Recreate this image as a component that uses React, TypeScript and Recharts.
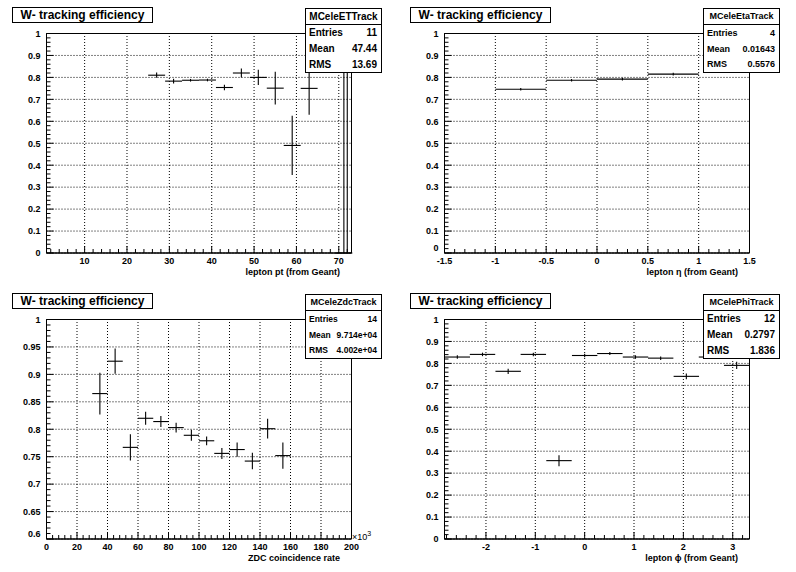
import React from 'react';
import { ScatterChart, Scatter, XAxis, YAxis, ErrorBar, ReferenceLine, ReferenceArea } from 'recharts';

const FONT = '"Liberation Sans", Arial, Helvetica, sans-serif';

// lepton pt panel
const ptCenters = [27, 31, 35, 39, 43, 47, 51, 55, 59, 63];
const ptEff = [0.81, 0.783, 0.787, 0.788, 0.754, 0.82, 0.8, 0.751, 0.49, 0.75];
const ptErr = [0.012, 0.011, 0.006, 0.006, 0.013, 0.02, 0.035, 0.075, 0.135, 0.12];
const ptHalfWidth = 2;
const ptSpikeX = [71.2, 72];
const ptSpikeTop = [1, 1];
const ptMajor = [10, 20, 30, 40, 50, 60, 70];
const ptLabels = ['10', '20', '30', '40', '50', '60', '70'];

// lepton eta panel
const etaCenters = [-0.75, -0.25, 0.25, 0.75];
const etaEff = [0.746, 0.787, 0.792, 0.815];
const etaErr = [0.006, 0.006, 0.006, 0.006];
const etaHalfWidth = 0.25;
const etaMajor = [-1.5, -1, -0.5, 0, 0.5, 1, 1.5];
const etaLabels = ['-1.5', '-1', '-0.5', '0', '0.5', '1', '1.5'];

// ZDC rate panel (x in units of 10^3)
const zdcCenters = [35, 45, 55, 65, 75, 85, 95, 105, 115, 125, 135, 145, 155];
const zdcEff = [0.865, 0.924, 0.767, 0.82, 0.814, 0.803, 0.789, 0.779, 0.756, 0.763, 0.742, 0.801, 0.752];
const zdcErr = [0.038, 0.023, 0.024, 0.012, 0.01, 0.009, 0.01, 0.008, 0.01, 0.013, 0.015, 0.018, 0.024];
const zdcHalfWidth = 5;
const zdcMajor = [0, 20, 40, 60, 80, 100, 120, 140, 160, 180, 200];
const zdcLabels = ['0', '20', '40', '60', '80', '100', '120', '140', '160', '180', '200'];

// lepton phi panel
const phiCenters = [-2.58, -2.07, -1.55, -1.04, -0.52, 0.0, 0.51, 1.03, 1.54, 2.06, 2.57, 3.08];
const phiEff = [0.829, 0.841, 0.764, 0.841, 0.357, 0.836, 0.845, 0.829, 0.824, 0.741, 0.829, 0.791];
const phiErr = [0.008, 0.008, 0.012, 0.008, 0.025, 0.008, 0.007, 0.008, 0.008, 0.013, 0.008, 0.016];
const phiHalfWidth = 0.2575;
const phiMajor = [-2, -1, 0, 1, 2, 3];
const phiLabels = ['-2', '-1', '0', '1', '2', '3'];

const effMajor = [0, 0.1, 0.2, 0.3, 0.4, 0.5, 0.6, 0.7, 0.8, 0.9, 1];
const effLabels = ['0', '0.1', '0.2', '0.3', '0.4', '0.5', '0.6', '0.7', '0.8', '0.9', '1'];
const zoomMajor = [0.6, 0.65, 0.7, 0.75, 0.8, 0.85, 0.9, 0.95, 1];
const zoomLabels = ['0.6', '0.65', '0.7', '0.75', '0.8', '0.85', '0.9', '0.95', '1'];

const steps = (from: number, to: number, step: number) => {
  const out: number[] = [];
  const n = Math.round((to - from) / step);
  for (let i = 0; i <= n; i++) out.push(+(from + i * step).toFixed(6));
  return out;
};

const toPoints = (xs: number[], ys: number[], errs: number[], half: number) =>
  xs.map((x, i) => ({ x, y: ys[i], ex: half, ey: errs[i] }));

const makeTick = (side: 'x' | 'y', major: number[], labels: string[], liftFirst: boolean) => (p: any) => {
  const v = p.payload.value;
  const i = major.findIndex((m) => Math.abs(m - v) < 1e-6);
  const len = i >= 0 ? 7 : 4;
  const textStyle = { fontFamily: FONT, fontWeight: 700, fontSize: 9, fill: '#000' };
  if (side === 'x') {
    return (
      <g>
        <line x1={p.x} y1={p.y} x2={p.x} y2={p.y - len} stroke="#000" />
        {i >= 0 && (
          <text x={p.x} y={p.y + 10.5} textAnchor="middle" style={textStyle}>
            {labels[i]}
          </text>
        )}
      </g>
    );
  }
  const lift = liftFirst && i === 0 ? 5 : 0;
  return (
    <g>
      <line x1={p.x} y1={p.y} x2={p.x + len} y2={p.y} stroke="#000" />
      {i >= 0 && (
        <text x={p.x - 6} y={p.y + 3.3 - lift} textAnchor="end" style={textStyle}>
          {labels[i]}
        </text>
      )}
    </g>
  );
};

interface Stats {
  name: string;
  entries: string;
  mean: string;
  rms: string;
  headSize: number;
  rowSize: number;
}

interface PanelProps {
  left: number;
  top: number;
  points: { x: number; y: number; ex: number; ey: number | number[] }[];
  spikes?: { x: number; y: number; ex: number; ey: number | number[] }[];
  xDomain: [number, number];
  yDomain: [number, number];
  xMinor: number[];
  xMajor: number[];
  xLabels: string[];
  yMinor: number[];
  yMajor: number[];
  yLabels: string[];
  liftFirst?: boolean;
  xTitle: string;
  stats: Stats;
  multiplier?: boolean;
}

const StatsBox = ({ s }: { s: Stats }) => (
  <div
    style={{
      position: 'absolute',
      left: 305,
      top: 8,
      width: 77,
      height: 65,
      boxSizing: 'border-box',
      border: '1px solid #000',
      background: '#fff',
      fontFamily: FONT,
      fontWeight: 700,
      display: 'flex',
      flexDirection: 'column',
    }}
  >
    <div
      style={{
        height: 15,
        borderBottom: '1px solid #000',
        fontSize: s.headSize,
        lineHeight: '15px',
        textAlign: 'center',
      }}
    >
      {s.name}
    </div>
    {[
      ['Entries', s.entries],
      ['Mean', s.mean],
      ['RMS', s.rms],
    ].map(([k, v]) => (
      <div
        key={k}
        style={{
          flex: 1,
          display: 'flex',
          justifyContent: 'space-between',
          alignItems: 'center',
          padding: '0 4px 0 3px',
          fontSize: s.rowSize,
        }}
      >
        <span>{k}</span>
        <span>{v}</span>
      </div>
    ))}
  </div>
);

const Panel = (p: PanelProps) => (
  <div style={{ position: 'absolute', left: p.left, top: p.top, width: 398, height: 286 }}>
    <ScatterChart width={398} height={286} margin={{ top: 33.5, right: 46.5, bottom: 13, left: 0.5 }}>
      <XAxis
        type="number"
        dataKey="x"
        domain={p.xDomain}
        allowDataOverflow
        ticks={p.xMinor}
        interval={0}
        height={20}
        tickSize={0}
        tickMargin={0}
        tickLine={false}
        axisLine={{ stroke: '#000' }}
        tick={makeTick('x', p.xMajor, p.xLabels, false)}
      />
      <YAxis
        type="number"
        dataKey="y"
        domain={p.yDomain}
        allowDataOverflow
        ticks={p.yMinor}
        interval={0}
        width={46}
        tickSize={0}
        tickMargin={0}
        tickLine={false}
        axisLine={{ stroke: '#000' }}
        tick={makeTick('y', p.yMajor, p.yLabels, !!p.liftFirst)}
      />
      {p.yMajor.map((v) => (
        <ReferenceLine key={'gy' + v} y={v} stroke="#000" strokeDasharray="1 2" />
      ))}
      {p.xMajor.map((v) => (
        <ReferenceLine key={'gx' + v} x={v} stroke="#000" strokeDasharray="1 2" />
      ))}
      <Scatter data={p.points} shape={() => <g />} isAnimationActive={false}>
        <ErrorBar dataKey="ex" direction="x" width={0} stroke="#000" strokeWidth={1.1} />
        <ErrorBar dataKey="ey" direction="y" width={0} stroke="#000" strokeWidth={1.1} />
      </Scatter>
      {p.spikes && (
        <Scatter data={p.spikes} shape={() => <g />} isAnimationActive={false}>
          <ErrorBar dataKey="ex" direction="x" width={0} stroke="#000" strokeWidth={1.1} />
          <ErrorBar dataKey="ey" direction="y" width={0} stroke="#000" strokeWidth={1.1} />
        </Scatter>
      )}
      <ReferenceArea
        x1={p.xDomain[0]}
        x2={p.xDomain[1]}
        y1={p.yDomain[0]}
        y2={p.yDomain[1]}
        fill="none"
        stroke="#000"
        ifOverflow="visible"
      />
    </ScatterChart>
    <div
      style={{
        position: 'absolute',
        left: 12,
        top: 7,
        width: 141,
        height: 16,
        boxSizing: 'border-box',
        border: '1px solid #000',
        background: '#fff',
        fontFamily: FONT,
        fontWeight: 700,
        fontSize: 12,
        lineHeight: '14px',
        textAlign: 'center',
      }}
    >
      W- tracking efficiency
    </div>
    <StatsBox s={p.stats} />
    <div
      style={{
        position: 'absolute',
        right: 58,
        top: 267,
        fontFamily: FONT,
        fontWeight: 700,
        fontSize: 9,
        lineHeight: '11px',
        whiteSpace: 'nowrap',
      }}
    >
      {p.xTitle}
    </div>
    {p.multiplier && (
      <div
        style={{
          position: 'absolute',
          left: 352,
          top: 242,
          fontFamily: FONT,
          fontSize: 9,
          lineHeight: '11px',
          whiteSpace: 'nowrap',
        }}
      >
        ×10<sup style={{ fontSize: 7, verticalAlign: 4 }}>3</sup>
      </div>
    )}
  </div>
);

export default function App() {
  const ptSpikes = ptSpikeX.map((x, i) => ({ x, y: 0, ex: i === 0 ? ptHalfWidth : 0, ey: [0, ptSpikeTop[i]] }));
  return (
    <div style={{ position: 'absolute', left: 0, top: 0, width: 796, height: 572, background: '#fff', overflow: 'hidden' }}>
      <Panel
        left={0}
        top={0}
        points={toPoints(ptCenters, ptEff, ptErr, ptHalfWidth)}
        spikes={ptSpikes}
        xDomain={[1, 73]}
        yDomain={[0, 1]}
        xMinor={steps(2, 72, 2)}
        xMajor={ptMajor}
        xLabels={ptLabels}
        yMinor={steps(0, 1, 0.02)}
        yMajor={effMajor}
        yLabels={effLabels}
        xTitle="lepton pt (from Geant)"
        stats={{ name: 'MCeleETTrack', entries: '11', mean: '47.44', rms: '13.69', headSize: 10, rowSize: 10 }}
      />
      <Panel
        left={398}
        top={0}
        points={toPoints(etaCenters, etaEff, etaErr, etaHalfWidth)}
        xDomain={[-1.5, 1.5]}
        yDomain={[0, 1]}
        xMinor={steps(-1.5, 1.5, 0.1)}
        xMajor={etaMajor}
        xLabels={etaLabels}
        yMinor={steps(0, 1, 0.02)}
        yMajor={effMajor}
        yLabels={effLabels}
        liftFirst
        xTitle="lepton η (from Geant)"
        stats={{ name: 'MCeleEtaTrack', entries: '4', mean: '0.01643', rms: '0.5576', headSize: 9, rowSize: 9 }}
      />
      <Panel
        left={0}
        top={286}
        points={toPoints(zdcCenters, zdcEff, zdcErr, zdcHalfWidth)}
        xDomain={[0, 200]}
        yDomain={[0.6, 1]}
        xMinor={steps(0, 200, 4)}
        xMajor={zdcMajor}
        xLabels={zdcLabels}
        yMinor={steps(0.6, 1, 0.01)}
        yMajor={zoomMajor}
        yLabels={zoomLabels}
        liftFirst
        xTitle="ZDC coincidence rate"
        multiplier
        stats={{ name: 'MCeleZdcTrack', entries: '14', mean: '9.714e+04', rms: '4.002e+04', headSize: 9, rowSize: 8.5 }}
      />
      <Panel
        left={398}
        top={286}
        points={toPoints(phiCenters, phiEff, phiErr, phiHalfWidth)}
        xDomain={[-2.84, 3.34]}
        yDomain={[0, 1]}
        xMinor={steps(-2.8, 3.2, 0.2)}
        xMajor={phiMajor}
        xLabels={phiLabels}
        yMinor={steps(0, 1, 0.02)}
        yMajor={effMajor}
        yLabels={effLabels}
        xTitle="lepton ϕ (from Geant)"
        stats={{ name: 'MCelePhiTrack', entries: '12', mean: '0.2797', rms: '1.836', headSize: 9, rowSize: 10 }}
      />
    </div>
  );
}
